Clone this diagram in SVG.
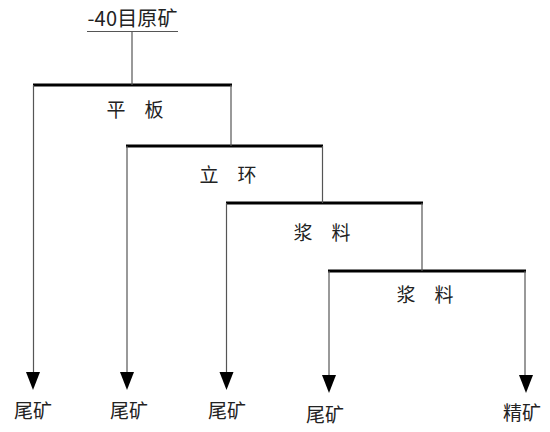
<svg xmlns="http://www.w3.org/2000/svg" width="550" height="432" viewBox="0 0 550 432">
<style>
text{font-family:"Noto Sans CJK SC","Liberation Serif",serif;font-size:19px;fill:#222;text-anchor:middle}
.bar{stroke:#000;stroke-width:3;fill:none}
.ln{stroke:#555;stroke-width:1.2;fill:none}
.ah{fill:#000}
</style>
<defs>
<polygon id="ah" class="ah" points="-7,0 7,0 0,18"/>
</defs>
<rect width="550" height="432" fill="#fff"/>
<g id="feed">
<text x="132.5" y="26" textLength="90" lengthAdjust="spacing" style="font-size:20px">-40目原矿</text>
<line class="ln" x1="87" y1="31.5" x2="178" y2="31.5"/>
</g>
<g id="node-pingban">
<line class="bar" x1="33" y1="85" x2="232" y2="85"/>
<text x="135" y="117">平　板</text>
</g>
<g id="node-lihuan">
<line class="bar" x1="126" y1="146" x2="323" y2="146"/>
<text x="228" y="182">立　环</text>
</g>
<g id="node-jiangliao1">
<line class="bar" x1="226" y1="203" x2="423" y2="203"/>
<text x="322" y="240">浆　料</text>
</g>
<g id="node-jiangliao2">
<line class="bar" x1="328" y1="271" x2="526" y2="271"/>
<text x="425" y="302">浆　料</text>
</g>
<g id="connectors">
<line class="ln" x1="132" y1="31.5" x2="132" y2="85"/>
<line class="ln" x1="231" y1="85" x2="231" y2="146"/>
<line class="ln" x1="322.5" y1="146" x2="322.5" y2="203"/>
<line class="ln" x1="422" y1="203" x2="422" y2="271"/>
<line class="ln" x1="33.5" y1="85" x2="33.5" y2="374"/>
<line class="ln" x1="127" y1="146" x2="127" y2="374"/>
<line class="ln" x1="226.5" y1="203" x2="226.5" y2="374"/>
<line class="ln" x1="329" y1="271" x2="329" y2="376"/>
<line class="ln" x1="525" y1="271" x2="525" y2="376"/>
<use href="#ah" x="33" y="372"/>
<use href="#ah" x="127" y="372"/>
<use href="#ah" x="226.5" y="372"/>
<use href="#ah" x="329" y="375"/>
<use href="#ah" x="526" y="375"/>
</g>
<g id="out-1"><text x="33" y="418">尾矿</text></g>
<g id="out-2"><text x="129" y="418">尾矿</text></g>
<g id="out-3"><text x="227" y="418">尾矿</text></g>
<g id="out-4"><text x="325" y="422">尾矿</text></g>
<g id="out-5"><text x="522" y="420">精矿</text></g>
</svg>
